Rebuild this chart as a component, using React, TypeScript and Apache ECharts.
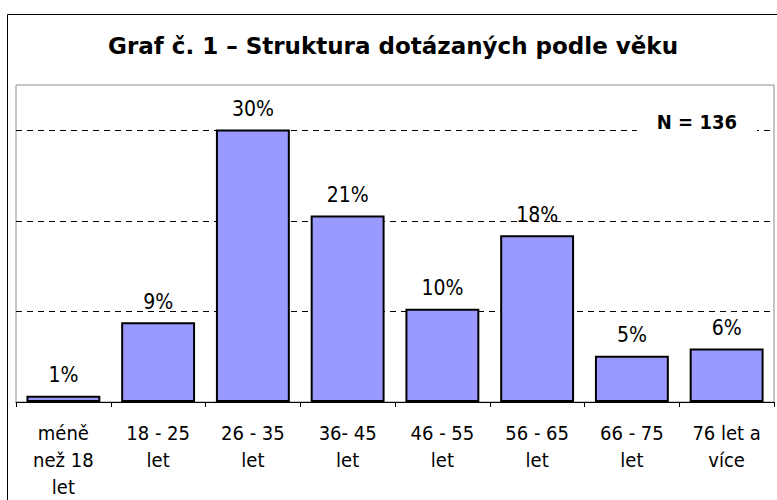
import React, { useEffect, useRef } from "react";
import * as echarts from "echarts";

const categories = [
  "méně\nnež 18\nlet",
  "18 - 25\nlet",
  "26 - 35\nlet",
  "36- 45\nlet",
  "46 - 55\nlet",
  "56 - 65\nlet",
  "66 - 75\nlet",
  "76 let a\nvíce",
];
// percentages of respondents (N = 136)
const shares = [0.7, 8.8, 30.1, 20.6, 10.3, 18.4, 5.1, 5.9];
const titleText = "Graf č. 1 – Struktura dotázaných podle věku";
const sampleText = "N = 136";
const yMax = 35;
const yStep = 10;

const FONT = "'DejaVu Sans Condensed', 'DejaVu Sans', Verdana, sans-serif";
const TITLE_FONT = "'DejaVu Sans', Verdana, sans-serif";

export default function App() {
  const ref = useRef<HTMLDivElement>(null);
  useEffect(() => {
    if (!ref.current) return;
    const chart = echarts.init(ref.current, undefined, { renderer: "svg" });
    chart.setOption({
      animation: false,
      backgroundColor: "#fff",
      textStyle: { fontFamily: FONT },
      grid: {
        left: 16,
        right: 3,
        top: 85,
        bottom: 95,
        show: true,
        borderColor: "#8c8c8c",
        borderWidth: 1,
        backgroundColor: "transparent",
      },
      graphic: [
        {
          type: "rect",
          z: 0,
          silent: true,
          shape: { x: 7.5, y: 14.5, width: 800, height: 600 },
          style: { fill: "none", stroke: "#000", lineWidth: 1 },
        },
        {
          type: "text",
          z: 10,
          x: 393,
          y: 46,
          style: {
            text: titleText,
            font: `bold 23px ${TITLE_FONT}`,
            fill: "#000",
            align: "center",
            verticalAlign: "middle",
          },
        },
        {
          type: "text",
          z: 10,
          x: 757,
          y: 122,
          style: {
            text: sampleText,
            font: `bold 20px ${FONT}`,
            fill: "#000",
            align: "right",
            verticalAlign: "middle",
            backgroundColor: "#fff",
            padding: [6, 20, 6, 20],
          },
        },
      ],
      xAxis: {
        type: "category",
        data: categories,
        boundaryGap: true,
        axisLine: { show: true, lineStyle: { color: "#000", width: 1 } },
        axisTick: { show: true, length: 5, lineStyle: { color: "#000" } },
        axisLabel: {
          color: "#000",
          fontSize: 20,
          lineHeight: 27,
          margin: 17,
          fontFamily: FONT,
          interval: 0,
        },
      },
      yAxis: {
        type: "value",
        min: 0,
        max: yMax,
        interval: yStep,
        axisLine: { show: false },
        axisTick: { show: false },
        axisLabel: { show: false },
        splitLine: {
          show: true,
          showMinLine: false,
          showMaxLine: false,
          lineStyle: { color: "#000", width: 1, type: [6, 5] },
        },
      },
      series: [
        {
          type: "bar",
          data: shares,
          barCategoryGap: "22%",
          itemStyle: { color: "#9999FF", borderColor: "#000", borderWidth: 2 },
          label: {
            show: true,
            position: "top",
            distance: 10,
            color: "#000",
            fontSize: 21,
            fontFamily: FONT,
            formatter: (p: any) => `${Math.round(p.value)}%`,
          },
        },
      ],
    });
    return () => chart.dispose();
  }, []);
  return (
    <div
      ref={ref}
      style={{ position: "fixed", left: 0, top: 0, width: 777, height: 500 }}
    />
  );
}
